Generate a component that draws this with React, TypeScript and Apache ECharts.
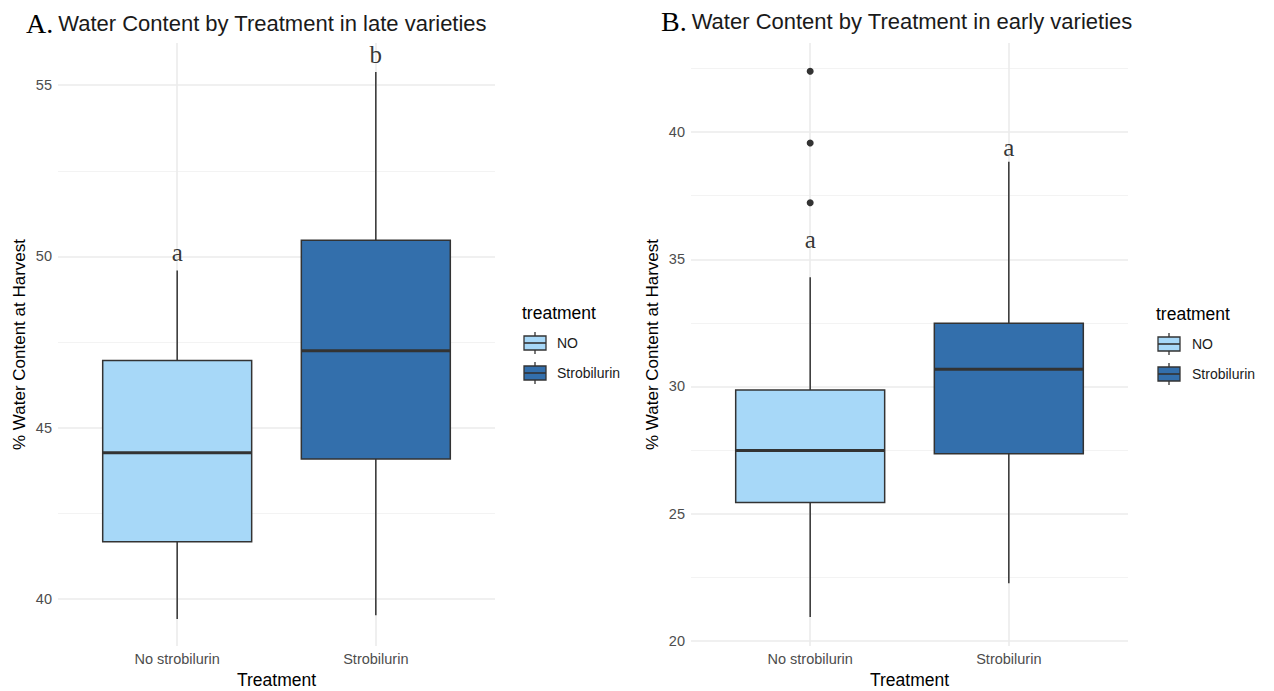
import React, { useEffect, useRef } from "react";
import * as echarts from "echarts";

// Treatment groups shown on both panels
const categories = ["No strobilurin", "Strobilurin"];
const legendNames = ["NO", "Strobilurin"];
const fills = ["#a7d8f8", "#336fac"];

// Box statistics: [lower whisker, Q1, median, Q3, upper whisker]
const lateNo = [39.42, 41.67, 44.27, 46.96, 49.59];
const lateStrob = [39.53, 44.09, 47.25, 50.47, 55.38];
const earlyNo = [20.94, 25.44, 27.48, 29.86, 34.29];
const earlyStrob = [22.27, 27.36, 30.68, 32.49, 38.83];

// Outlying observations (early varieties, no strobilurin)
const earlyNoOutliers = [37.22, 39.57, 42.39];

// Significance letters and their heights
const lateLetters = ["a", "b"];
const lateLetterY = [50.12, 55.88];
const earlyLetters = ["a", "a"];
const earlyLetterY = [35.77, 39.41];

// Axis ticks
const lateTicks = [40, 45, 50, 55];
const lateMinor = [42.5, 47.5, 52.5];
const earlyTicks = [20, 25, 30, 35, 40];
const earlyMinor = [22.5, 27.5, 32.5, 37.5, 42.5];

const SANS = "Liberation Sans";
const SERIF = "Liberation Serif";

function boxRender(params: any, api: any) {
  const x = api.value(0);
  const lo = api.coord([x, api.value(1)]);
  const q1 = api.coord([x, api.value(2)]);
  const med = api.coord([x, api.value(3)]);
  const q3 = api.coord([x, api.value(4)]);
  const hi = api.coord([x, api.value(5)]);
  const half = api.size([0.75, 0])[0] / 2;
  const fill = fills[api.value(6)];
  const stroke = { stroke: "#333333", lineWidth: 1.5 };
  return {
    type: "group",
    children: [
      { type: "line", shape: { x1: hi[0], y1: hi[1], x2: q3[0], y2: q3[1] }, style: stroke },
      { type: "line", shape: { x1: q1[0], y1: q1[1], x2: lo[0], y2: lo[1] }, style: stroke },
      {
        type: "rect",
        shape: { x: q3[0] - half, y: q3[1], width: half * 2, height: q1[1] - q3[1] },
        style: { fill, stroke: "#333333", lineWidth: 1.5 },
      },
      {
        type: "line",
        shape: { x1: med[0] - half, y1: med[1], x2: med[0] + half, y2: med[1] },
        style: { stroke: "#333333", lineWidth: 3 },
      },
    ],
  };
}

function gridLines(major: number[], minor: number[]) {
  return [
    ...major.map((v) => ({ yAxis: v, lineStyle: { color: "#ebebeb", width: 1.6, type: "solid" } })),
    ...minor.map((v) => ({ yAxis: v, lineStyle: { color: "#f2f2f2", width: 0.9, type: "solid" } })),
    ...[1, 2].map((v) => ({ xAxis: v, lineStyle: { color: "#ebebeb", width: 1.6, type: "solid" } })),
  ];
}

function legendGraphic(x: number, labelX: number, rowsY: number[]) {
  const children: any[] = [
    {
      type: "text",
      x,
      y: rowsY[0] - 30,
      style: { text: "treatment", fontFamily: SANS, fontSize: 17.5, fill: "#000", verticalAlign: "middle" },
    },
  ];
  rowsY.forEach((cy, i) => {
    const kx = x + 2;
    children.push(
      { type: "line", shape: { x1: kx + 11, y1: cy - 11, x2: kx + 11, y2: cy + 11 }, style: { stroke: "#333", lineWidth: 1.3 } },
      { type: "rect", shape: { x: kx, y: cy - 7, width: 22, height: 14 }, style: { fill: fills[i], stroke: "#333", lineWidth: 1.3 } },
      { type: "line", shape: { x1: kx, y1: cy, x2: kx + 22, y2: cy }, style: { stroke: "#333", lineWidth: 1.6 } },
      {
        type: "text",
        x: labelX,
        y: cy,
        style: { text: legendNames[i], fontFamily: SANS, fontSize: 14, fill: "#1a1a1a", verticalAlign: "middle" },
      }
    );
  });
  return { type: "group", children };
}

export default function App() {
  const ref = useRef<HTMLDivElement>(null);

  useEffect(() => {
    if (!ref.current) return;
    const chart = echarts.init(ref.current, undefined, { renderer: "svg" });

    const xAxisBase = (gridIndex: number) => ({
      type: "value",
      gridIndex,
      min: 0.4,
      max: 2.6,
      name: "Treatment",
      nameLocation: "middle",
      nameGap: 20,
      nameTextStyle: { fontFamily: SANS, fontSize: 17.5, color: "#000" },
      axisLine: { show: false },
      axisTick: { show: false },
      splitLine: { show: false },
      axisLabel: {
        customValues: [1, 2],
        formatter: (v: number) => categories[Math.round(v) - 1] ?? "",
        fontFamily: SANS,
        fontSize: 14.5,
        color: "#4d4d4d",
        margin: 5,
      },
    });

    const yAxisBase = (gridIndex: number, min: number, max: number, ticks: number[]) => ({
      type: "value",
      gridIndex,
      min,
      max,
      name: "% Water Content at Harvest",
      nameLocation: "middle",
      nameGap: 30,
      nameTextStyle: { fontFamily: SANS, fontSize: 17, color: "#000" },
      axisLine: { show: false },
      axisTick: { show: false },
      splitLine: { show: false },
      axisLabel: {
        customValues: ticks,
        fontFamily: SANS,
        fontSize: 14.5,
        color: "#4d4d4d",
        margin: 6,
      },
    });

    const letterSeries = (idx: number, letters: string[], ys: number[]) => ({
      type: "scatter",
      xAxisIndex: idx,
      yAxisIndex: idx,
      symbolSize: 1,
      itemStyle: { color: "rgba(0,0,0,0)" },
      silent: true,
      z: 5,
      data: ys.map((y, i) => [i + 1, y]),
      label: {
        show: true,
        position: "inside",
        formatter: (p: any) => letters[p.dataIndex],
        fontFamily: SERIF,
        fontSize: 25,
        color: "#000",
      },
    });

    const gridSeries = (idx: number, major: number[], minor: number[]) => ({
      type: "line",
      xAxisIndex: idx,
      yAxisIndex: idx,
      data: [],
      z: 0,
      silent: true,
      markLine: {
        z: 0,
        silent: true,
        symbol: "none",
        label: { show: false },
        data: gridLines(major, minor),
      },
    });

    const titleStyle = {
      rich: {
        l: { fontFamily: SERIF, fontSize: 28, color: "#000", fontWeight: "normal" },
        t: { fontFamily: SANS, fontSize: 22, color: "#1a1a1a", fontWeight: "normal" },
      },
    };

    chart.setOption({
      animation: false,
      title: [
        {
          left: 21,
          top: 4,
          text: "{l|A.} {t|Water Content by Treatment in late varieties}",
          textStyle: { fontWeight: "normal", ...titleStyle },
        },
        {
          left: 656,
          top: 2,
          text: "{l|B.} {t|Water Content by Treatment in early varieties}",
          textStyle: { fontWeight: "normal", ...titleStyle },
        },
      ],
      grid: [
        { left: 58, top: 43, width: 437, height: 603, outerBoundsMode: "none" },
        { left: 691, top: 43, width: 437, height: 603, outerBoundsMode: "none" },
      ],
      xAxis: [xAxisBase(0), xAxisBase(1)],
      yAxis: [yAxisBase(0, 38.63, 56.23, lateTicks), yAxisBase(1, 19.8, 43.5, earlyTicks)],
      series: [
        gridSeries(0, lateTicks, lateMinor),
        gridSeries(1, earlyTicks, earlyMinor),
        {
          type: "custom",
          xAxisIndex: 0,
          yAxisIndex: 0,
          z: 3,
          renderItem: boxRender,
          data: [
            [1, ...lateNo, 0],
            [2, ...lateStrob, 1],
          ],
        },
        {
          type: "custom",
          xAxisIndex: 1,
          yAxisIndex: 1,
          z: 3,
          renderItem: boxRender,
          data: [
            [1, ...earlyNo, 0],
            [2, ...earlyStrob, 1],
          ],
        },
        {
          type: "scatter",
          xAxisIndex: 1,
          yAxisIndex: 1,
          z: 4,
          symbolSize: 7,
          itemStyle: { color: "#333333", opacity: 1 },
          data: earlyNoOutliers.map((v) => [1, v]),
        },
        letterSeries(0, lateLetters, lateLetterY),
        letterSeries(1, earlyLetters, earlyLetterY),
      ],
      graphic: [legendGraphic(522, 557, [343, 373]), legendGraphic(1156, 1192, [344, 374])],
    });

    return () => chart.dispose();
  }, []);

  return (
    <div
      ref={ref}
      style={{ position: "fixed", left: 0, top: 0, width: 1274, height: 691, background: "#fff" }}
    />
  );
}
